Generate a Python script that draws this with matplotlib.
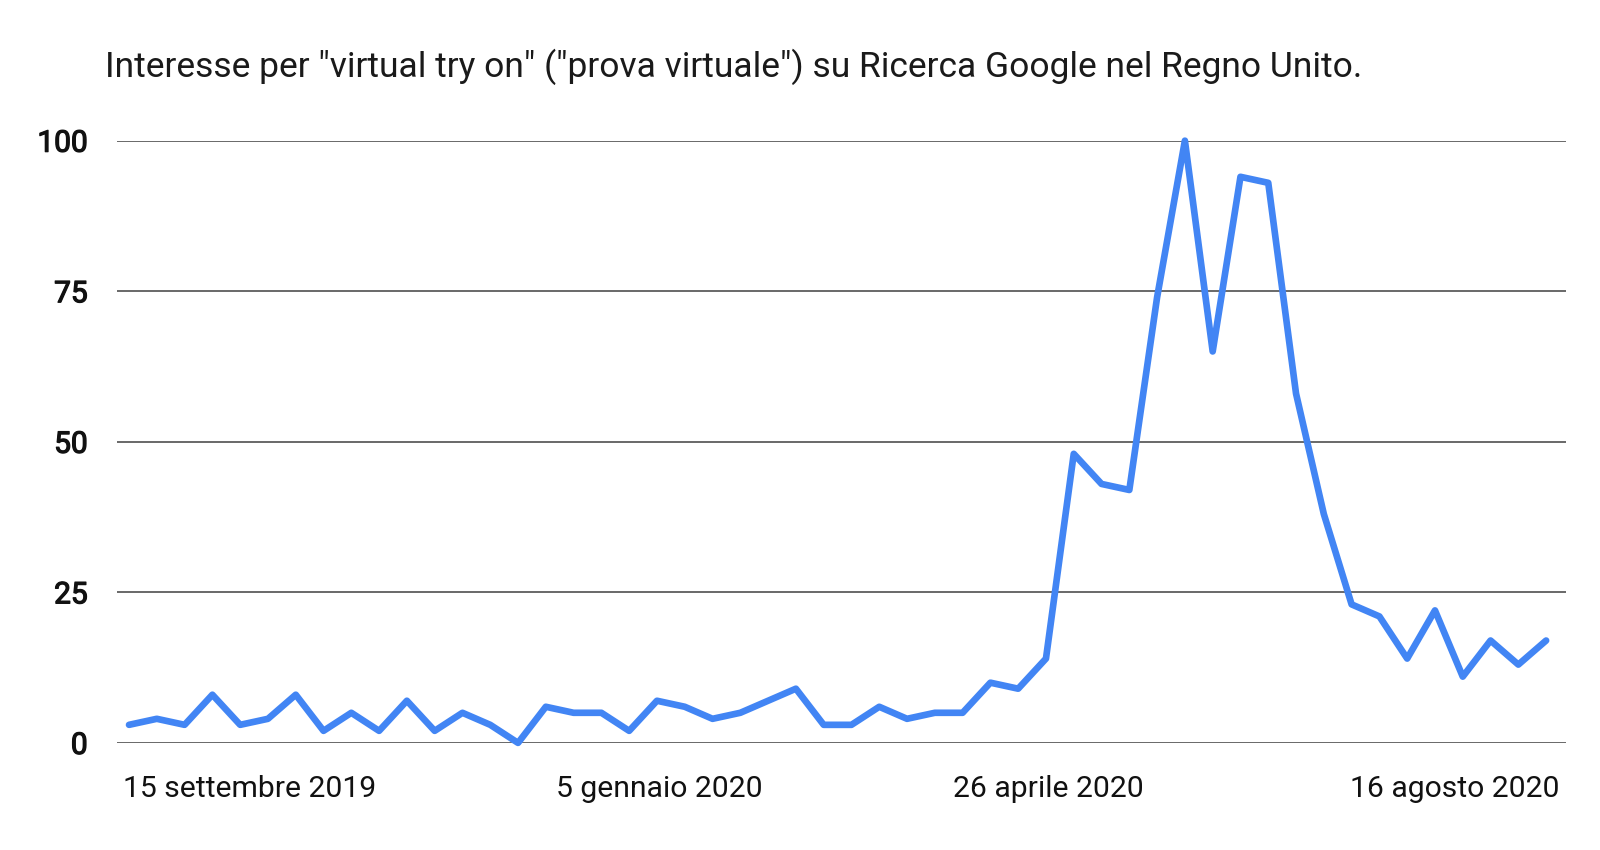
import matplotlib
matplotlib.use("Agg")
from matplotlib import pyplot as plt
import matplotlib.patheffects as pe
import numpy as np

# Dati settimanali (Google Trends, Regno Unito)
interesse = [3, 4, 3, 8, 3, 4, 8, 2, 5, 2, 7, 2, 5, 3, 0, 6, 5, 5, 2, 7,
             6, 4, 5, 7, 9, 3, 3, 6, 4, 5, 5, 10, 9, 14, 48, 43, 42, 74, 100, 65,
             94, 93, 58, 38, 23, 21, 14, 22, 11, 17, 13, 17]
settimane = np.arange(len(interesse))

etichette_x = ['15 settembre 2019', '5 gennaio 2020', '26 aprile 2020', '16 agosto 2020']
pos_etichette_x = [4.35, 19.1, 33.1, 47.7]
valori_y = [0, 25, 50, 75, 100]

titolo = 'Interesse per "virtual try on" ("prova virtuale") su Ricerca Google nel Regno Unito.'

plt.rcParams['font.family'] = ['Roboto', 'DejaVu Sans']

fig = plt.figure(figsize=(16, 8.5), dpi=100)
ax = fig.add_axes([0.073, 0.126, 0.906, 0.7085])

ax.plot(settimane, interesse, color='#4285F4', lw=4.8, solid_joinstyle='round',
        solid_capstyle='round', clip_on=False, zorder=3)

ax.set_xlim(-0.44, 51.73)
ax.set_ylim(0, 100)
ax.set_yticks(valori_y)
# Roboto Medium no está: regular con un trazo fino para engrosar
ax.set_yticklabels([str(v) for v in valori_y], fontsize=21.5, color='#111111')
for t in ax.get_yticklabels():
    t.set_path_effects([pe.withStroke(linewidth=0.9, foreground='#111111')])
ax.set_xticks(pos_etichette_x)
ax.set_xticklabels(etichette_x, fontsize=21.7, color='#111111')
ax.tick_params(axis='y', length=0, pad=21)
ax.tick_params(axis='x', length=0, pad=23)

for v in valori_y:
    ax.axhline(v, color='#404040', lw=1.1, zorder=1)

for s in ax.spines.values():
    s.set_visible(False)

fig.text(0.0656, 0.909, titolo, fontsize=25.5, color='#1a1a1a', ha='left', va='baseline')

fig.savefig('out.png', dpi=100)
